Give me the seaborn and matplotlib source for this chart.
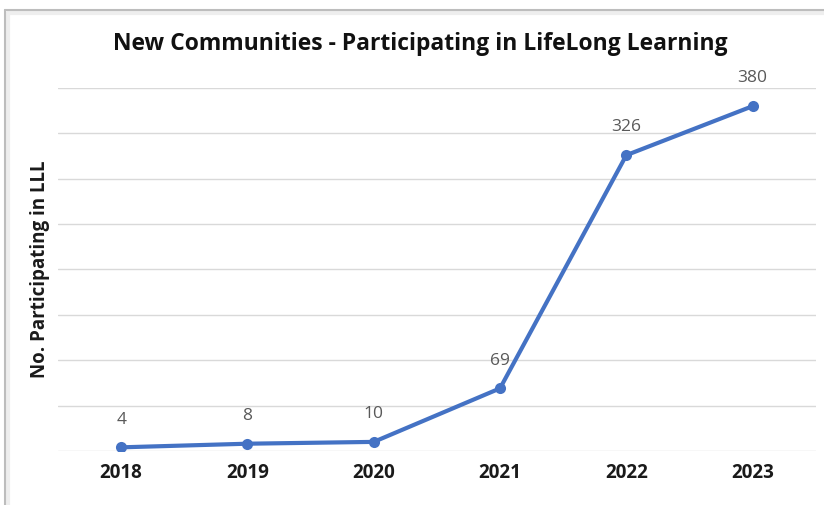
import pandas as pd
import seaborn as sns
import matplotlib.pyplot as plt
from matplotlib.lines import Line2D

years = ['2018', '2019', '2020', '2021', '2022', '2023']
participants = [4, 8, 10, 69, 326, 380]

df = pd.DataFrame({'Year': years, 'Participants': participants})

sns.set_theme(style='white')
plt.rcParams['font.family'] = ['Open Sans', 'DejaVu Sans']

fig = plt.figure(figsize=(8.24, 5.05), dpi=100)
ax = fig.add_axes([0.0704, 0.107, 0.9196, 0.7187])

sns.lineplot(data=df, x='Year', y='Participants', ax=ax, color='#4472C4',
             linewidth=3, marker='o', markersize=8, markeredgewidth=0)

for x, y in zip(df['Year'], df['Participants']):
    ax.annotate(str(y), (x, y), xytext=(0, 20), textcoords='offset points',
                ha='center', va='center', fontsize=12.5, color='#595959')

ax.set_ylim(0, 400)
ax.set_xlim(-0.5, 5.5)
ax.set_yticks(range(0, 401, 50))
ax.set_yticklabels([])
ax.yaxis.grid(True, color='#D9D9D9', linewidth=1)
ax.tick_params(axis='both', length=0)
ax.tick_params(axis='x', pad=9)
for lbl in ax.get_xticklabels():
    lbl.set_fontweight('bold')
    lbl.set_fontsize(13.5)
    lbl.set_color('#1a1a1a')
for s in ax.spines.values():
    s.set_visible(False)

ax.set_xlabel('')
ax.set_ylabel('No. Participating in LLL', fontsize=13.5, fontweight='bold',
              color='#1a1a1a', labelpad=2)

fig.text(0.51, 0.913, 'New Communities - Participating in LifeLong Learning',
         ha='center', va='center', fontsize=16.5, fontweight='bold', color='#111111')

# chart frame (left and top edges, with a soft shadow)
for off, col, lw in [(0.004, '#EEEEEE', 3), (0.0, '#BDBDBD', 1.5)]:
    fig.add_artist(Line2D([0.006 + off, 0.006 + off], [0.0, 0.98 - off * 1.6],
                          color=col, linewidth=lw))
    fig.add_artist(Line2D([0.006 + off, 1.0], [0.98 - off * 1.6, 0.98 - off * 1.6],
                          color=col, linewidth=lw))

fig.savefig('out.png', dpi=100)
